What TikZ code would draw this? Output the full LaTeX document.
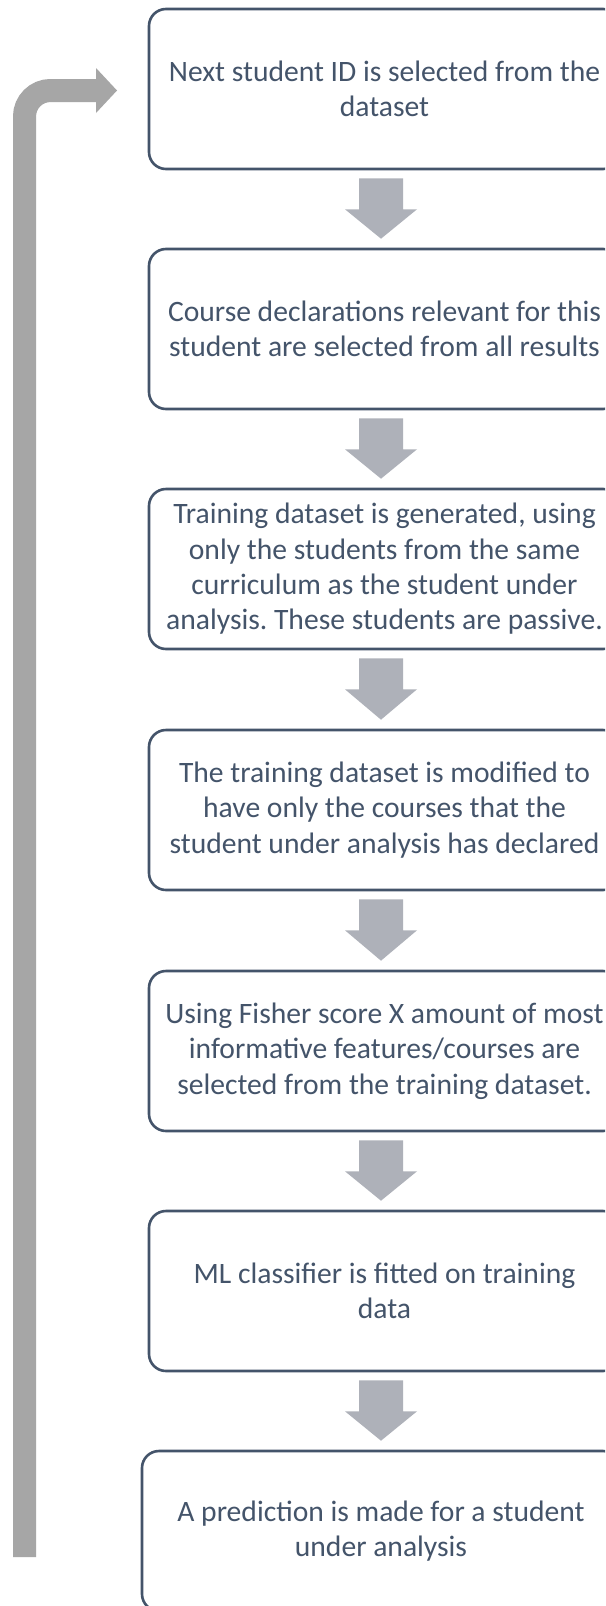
\documentclass[tikz,border=0pt]{standalone}
\usepackage{fontspec}
\setmainfont{Carlito}
\usetikzlibrary{calc}
\definecolor{slate}{HTML}{44546A}
\definecolor{stepgray}{HTML}{AEB1B9}
\definecolor{loopgray}{HTML}{A6A6A6}
\frenchspacing
\begin{document}
\begin{tikzpicture}[x=1pt,y=-1pt,
  stepbox/.style={draw=slate, line width=2.6pt, rounded corners=17pt,
    inner sep=0pt, minimum height=160pt, align=center, text=slate,
    font=\fontsize{29.6}{35.4}\selectfont},
  flowarrow/.style={fill=stepgray},
  looparrow/.style={draw=loopgray, line width=23pt, rounded corners=26pt}]
\useasboundingbox (0,0) rectangle (605,1606);
\clip (0,0) rectangle (605,1606);
\fill[white] (0,0) rectangle (605,1606);

% process steps
\node[stepbox, minimum width=471pt] (b1) at (384.5,89)
  {Next student ID is selected from the\\dataset};
\node[stepbox, minimum width=471pt] (b2) at (384.5,329)
  {Course declarations relevant for this\\student are selected from all results};
\node[stepbox, minimum width=471pt] (b3) at (384.5,569)
  {Training dataset is generated, using\\only the students from the same\\curriculum as the student under\\analysis. These students are passive.};
\node[stepbox, minimum width=471pt] (b4) at (384.5,810)
  {The training dataset is modified to\\have only the courses that the\\student under analysis has declared};
\node[stepbox, minimum width=471pt] (b5) at (384.5,1051)
  {Using Fisher score X amount of most\\informative features/courses are\\selected from the training dataset.};
\node[stepbox, minimum width=471pt] (b6) at (384.5,1291)
  {ML classifier is fitted on training\\data};
\node[stepbox, minimum width=478pt] (b7) at (381,1531)
  {A prediction is made for a student\\under analysis};

% block arrows between consecutive steps
\coordinate (axis) at (381,0);
\foreach \a/\b in {b1/b2,b2/b3,b3/b4,b4/b5,b5/b6,b6/b7}{
  \path (\a.south -| axis) coordinate (s) (\b.north -| axis) coordinate (e);
  \fill[flowarrow] ($(s)+(-22,8)$) -- ($(s)+(22,8)$) -- ($(s)+(22,39)$)
    -- ($(s)+(36,39)$) -- ($(e)+(0,-9)$) -- ($(s)+(-36,39)$)
    -- ($(s)+(-22,39)$) -- cycle;
}

% loop back to the first step
\coordinate (loopstart) at (24.5,1557);
\coordinate (loopend) at (97,90.5);
\draw[looparrow] (loopstart) |- (loopend);
\fill[loopgray] (96,68) -- (117,90.5) -- (96,113) -- cycle;
\end{tikzpicture}
\end{document}
